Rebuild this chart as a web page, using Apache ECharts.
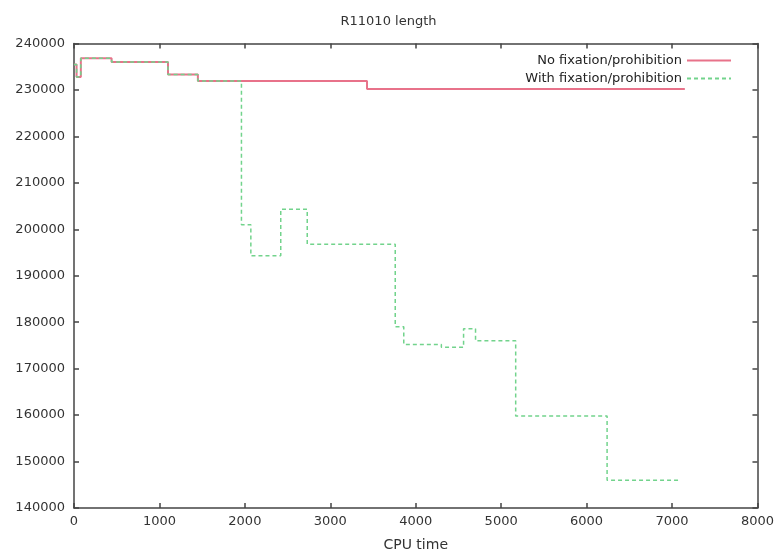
<!DOCTYPE html>
<html>
<head>
<meta charset="utf-8">
<script src="https://cdn.jsdelivr.net/npm/echarts@6/dist/echarts.min.js"></script>
<style>html,body{margin:0;padding:0;background:#fff}#c{width:777px;height:557px}</style>
</head>
<body>
<div id="c"></div>
<script>
const titleText = 'R11010 length';
const xName = 'CPU time';
const seriesNames = ['No fixation/prohibition', 'With fixation/prohibition'];
const redT = [0, 30, 80, 440, 1100, 1450, 3430, 7150];
const redV = [235500, 232800, 236800, 236000, 233300, 231900, 230200, 230200];
const greenT = [0, 30, 80, 440, 1100, 1450, 1960, 2070, 2420, 2730, 3760, 3860, 4300, 4560, 4700, 5170, 6240, 7080];
const greenV = [235500, 232800, 236800, 236000, 233300, 231900, 201000, 194300, 204300, 196800, 179000, 175200, 174600, 178600, 176000, 159800, 146000, 146000];

const pair = (t, v) => t.map((x, i) => [x, v[i]]);
const chart = echarts.init(document.getElementById('c'), null, {renderer: 'canvas'});
const font = 'DejaVu Sans, sans-serif';
const mkLine = () => ({show: true, onZero: false, lineStyle: {color: '#444', width: 1.5}});
const mkTick = () => ({show: true, inside: true, length: 5, lineStyle: {color: '#444', width: 1.5}});
const plain = v => String(v);
chart.setOption({
  animation: false,
  backgroundColor: '#fff',
  title: {text: titleText, left: 'center', top: 10, textStyle: {fontFamily: font, fontSize: 13, fontWeight: 'normal', color: '#333'}},
  legend: {
    right: 40, top: 49, orient: 'vertical', align: 'right', itemWidth: 44, itemHeight: 10, itemGap: 5,
    itemStyle: {opacity: 0},
    textStyle: {fontFamily: font, fontSize: 13, color: '#222'},
    data: seriesNames
  },
  grid: {left: 74, right: 16, top: 43.5, bottom: 47},
  xAxis: [
    {type: 'value', min: 0, max: 8000, interval: 1000, name: xName, nameLocation: 'middle', nameGap: 30,
     nameTextStyle: {fontFamily: font, fontSize: 14, color: '#333'},
     axisLine: mkLine(), axisTick: mkTick(), splitLine: {show: false},
     axisLabel: {fontFamily: font, fontSize: 13, color: '#333', margin: 7, formatter: plain}},
    {type: 'value', position: 'top', min: 0, max: 8000, interval: 1000,
     axisLine: mkLine(), axisTick: mkTick(), splitLine: {show: false}, axisLabel: {show: false}}
  ],
  yAxis: [
    {type: 'value', min: 140000, max: 240000, interval: 10000,
     axisLine: mkLine(), axisTick: mkTick(), splitLine: {show: false},
     axisLabel: {fontFamily: font, fontSize: 13, color: '#333', margin: 9, formatter: plain}},
    {type: 'value', position: 'right', min: 140000, max: 240000, interval: 10000,
     axisLine: mkLine(), axisTick: mkTick(), splitLine: {show: false}, axisLabel: {show: false}}
  ],
  series: [
    {name: seriesNames[0], type: 'line', step: 'end', symbol: 'none', data: pair(redT, redV),
     lineStyle: {color: '#e8728a', width: 2}, itemStyle: {color: '#e8728a'}},
    {name: seriesNames[1], type: 'line', step: 'end', symbol: 'none', data: pair(greenT, greenV),
     lineStyle: {color: '#72d38c', width: 1.5, type: [4, 3]}, itemStyle: {color: '#72d38c'}}
  ]
});
</script>
</body>
</html>
